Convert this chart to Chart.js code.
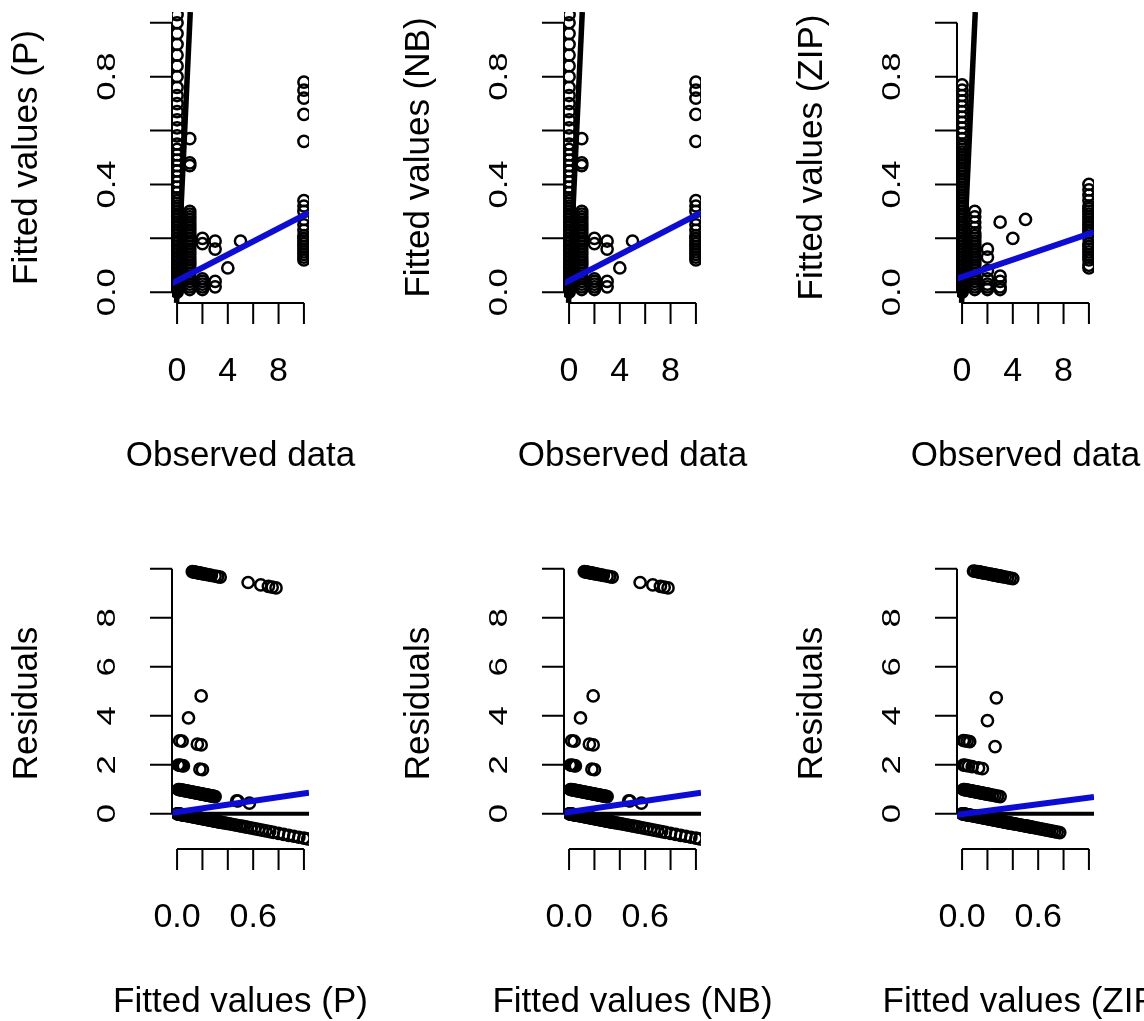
<!DOCTYPE html>
<html><head><meta charset="utf-8">
<script src="https://cdn.jsdelivr.net/npm/chart.js@4.4.1/dist/chart.umd.min.js"></script>
<style>
html,body{margin:0;padding:0;background:#fff;overflow:hidden;width:1144px;height:1021px;}
canvas{position:absolute;left:0;top:0;pointer-events:none;}
</style></head><body>
<canvas id="c0" width="1144" height="1021"></canvas>
<canvas id="c1" width="1144" height="1021"></canvas>
<canvas id="c2" width="1144" height="1021"></canvas>
<canvas id="c3" width="1144" height="1021"></canvas>
<canvas id="c4" width="1144" height="1021"></canvas>
<canvas id="c5" width="1144" height="1021"></canvas>
<script>
// ---------------- DATA ----------------
// Poisson model: observed counts, fitted values, residuals
const obsP = [
  0,0,0,0,0,0,0,0,0,0, 0,0,0,0,0,0,0,0,0,0, 0,0,0,0,0,0,0,0,0,0,
  0,0,0,0,0,0,0,0,0,0, 0,0,0,0,0,0,0,0,0,0, 0,0,0,0,0,0,0,0,0,0, 0,0,0,0,0,
  1,1,1,1,1,1,1,1,1,1, 1,1,1,1,1,1,1,1,1,1, 1,1,1,1,1,1,1,1,1,1, 1,1,1,
  2,2,2,2,2,2,2, 3,3,3,3, 4, 5,
  10,10,10,10,10,10,10,10,10,10, 10,10,10,10,10,10,10,10,10,10, 10];
const fitP = [
  0.00,0.005,0.01,0.015,0.02,0.025,0.03,0.035,0.04,0.045,
  0.05,0.06,0.07,0.08,0.09,0.10,0.11,0.12,0.13,0.14,
  0.15,0.16,0.17,0.18,0.19,0.20,0.21,0.22,0.23,0.24,
  0.25,0.26,0.27,0.28,0.29,0.30,0.31,0.32,0.33,0.34,
  0.35,0.37,0.39,0.41,0.43,0.45,0.47,0.49,0.51,0.53,
  0.55,0.58,0.61,0.64,0.67,0.70,0.73,0.76,0.80,0.84,
  0.88,0.92,0.96,1.00,1.03,
  0.57,0.48,0.47,0.30,0.29,0.28,0.27,0.26,0.25,0.24,
  0.23,0.22,0.21,0.20,0.19,0.18,0.17,0.16,0.15,0.14,
  0.13,0.12,0.11,0.10,0.09,0.08,0.07,0.06,0.05,0.04,
  0.03,0.02,0.01,
  0.20,0.18,0.05,0.04,0.03,0.02,0.01, 0.19,0.16,0.04,0.02, 0.09, 0.19,
  0.78,0.75,0.72,0.66,0.56,0.34,0.32,0.30,0.27,0.25,
  0.23,0.21,0.20,0.19,0.18,0.17,0.16,0.15,0.14,0.13,
  0.12];
const resP = [
  0,-0.005,-0.01,-0.015,-0.02,-0.025,-0.03,-0.035,-0.04,-0.045,
  -0.05,-0.06,-0.07,-0.08,-0.09,-0.10,-0.11,-0.12,-0.13,-0.14,
  -0.15,-0.16,-0.17,-0.18,-0.19,-0.20,-0.21,-0.22,-0.23,-0.24,
  -0.25,-0.26,-0.27,-0.28,-0.29,-0.30,-0.31,-0.32,-0.33,-0.34,
  -0.35,-0.37,-0.39,-0.41,-0.43,-0.45,-0.47,-0.49,-0.51,-0.53,
  -0.55,-0.58,-0.61,-0.64,-0.67,-0.70,-0.73,-0.76,-0.80,-0.84,
  -0.88,-0.92,-0.96,-1.00,-1.03,
  0.43,0.52,0.53,0.70,0.71,0.72,0.73,0.74,0.75,0.76,
  0.77,0.78,0.79,0.80,0.81,0.82,0.83,0.84,0.85,0.86,
  0.87,0.88,0.89,0.90,0.91,0.92,0.93,0.94,0.95,0.96,
  0.97,0.98,0.99,
  1.80,1.82,1.95,1.96,1.97,1.98,1.99, 2.81,2.84,2.96,2.98, 3.91, 4.81,
  9.22,9.25,9.28,9.34,9.44,9.66,9.68,9.70,9.73,9.75,
  9.77,9.79,9.80,9.81,9.82,9.83,9.84,9.85,9.86,9.87,
  9.88];

// Negative binomial model
const obsNB = [
  0,0,0,0,0,0,0,0,0,0, 0,0,0,0,0,0,0,0,0,0, 0,0,0,0,0,0,0,0,0,0,
  0,0,0,0,0,0,0,0,0,0, 0,0,0,0,0,0,0,0,0,0, 0,0,0,0,0,0,0,0,0,0, 0,0,0,0,0,
  1,1,1,1,1,1,1,1,1,1, 1,1,1,1,1,1,1,1,1,1, 1,1,1,1,1,1,1,1,1,1, 1,1,1,
  2,2,2,2,2,2,2, 3,3,3,3, 4, 5,
  10,10,10,10,10,10,10,10,10,10, 10,10,10,10,10,10,10,10,10,10, 10];
const fitNB = [
  0.00,0.005,0.01,0.015,0.02,0.025,0.03,0.035,0.04,0.045,
  0.05,0.06,0.07,0.08,0.09,0.10,0.11,0.12,0.13,0.14,
  0.15,0.16,0.17,0.18,0.19,0.20,0.21,0.22,0.23,0.24,
  0.25,0.26,0.27,0.28,0.29,0.30,0.31,0.32,0.33,0.34,
  0.35,0.37,0.39,0.41,0.43,0.45,0.47,0.49,0.51,0.53,
  0.55,0.58,0.61,0.64,0.67,0.70,0.73,0.76,0.80,0.84,
  0.88,0.92,0.96,1.00,1.03,
  0.57,0.48,0.47,0.30,0.29,0.28,0.27,0.26,0.25,0.24,
  0.23,0.22,0.21,0.20,0.19,0.18,0.17,0.16,0.15,0.14,
  0.13,0.12,0.11,0.10,0.09,0.08,0.07,0.06,0.05,0.04,
  0.03,0.02,0.01,
  0.20,0.18,0.05,0.04,0.03,0.02,0.01, 0.19,0.16,0.04,0.02, 0.09, 0.19,
  0.78,0.75,0.72,0.66,0.56,0.34,0.32,0.30,0.27,0.25,
  0.23,0.21,0.20,0.19,0.18,0.17,0.16,0.15,0.14,0.13,
  0.12];
const resNB = [
  0,-0.005,-0.01,-0.015,-0.02,-0.025,-0.03,-0.035,-0.04,-0.045,
  -0.05,-0.06,-0.07,-0.08,-0.09,-0.10,-0.11,-0.12,-0.13,-0.14,
  -0.15,-0.16,-0.17,-0.18,-0.19,-0.20,-0.21,-0.22,-0.23,-0.24,
  -0.25,-0.26,-0.27,-0.28,-0.29,-0.30,-0.31,-0.32,-0.33,-0.34,
  -0.35,-0.37,-0.39,-0.41,-0.43,-0.45,-0.47,-0.49,-0.51,-0.53,
  -0.55,-0.58,-0.61,-0.64,-0.67,-0.70,-0.73,-0.76,-0.80,-0.84,
  -0.88,-0.92,-0.96,-1.00,-1.03,
  0.43,0.52,0.53,0.70,0.71,0.72,0.73,0.74,0.75,0.76,
  0.77,0.78,0.79,0.80,0.81,0.82,0.83,0.84,0.85,0.86,
  0.87,0.88,0.89,0.90,0.91,0.92,0.93,0.94,0.95,0.96,
  0.97,0.98,0.99,
  1.80,1.82,1.95,1.96,1.97,1.98,1.99, 2.81,2.84,2.96,2.98, 3.91, 4.81,
  9.22,9.25,9.28,9.34,9.44,9.66,9.68,9.70,9.73,9.75,
  9.77,9.79,9.80,9.81,9.82,9.83,9.84,9.85,9.86,9.87,
  9.88];

// Zero-inflated Poisson model
const obsZIP = [
  0,0,0,0,0,0,0,0,0,0, 0,0,0,0,0,0,0,0,0,0, 0,0,0,0,0,0,0,0,0,0,
  0,0,0,0,0,0,0,0,0,0, 0,0,0,0,0,0,0,0,0,0, 0,0,0,0,0,0,0,0,0,0,
  0,0,0,0,0,0,0,0,0,0, 0,0,
  1,1,1,1,1,1,1,1,1,1, 1,1,1,1,1,1,1,1,1,1, 1,1,1,1,1,1,
  2,2,2,2,2,2,2, 3,3,3,3,3, 4, 5,
  10,10,10,10,10,10,10,10,10,10, 10,10,10,10,10,10,10,10,10,10, 10,10,10,10,10];
const fitZIP = [
  0.00,0.005,0.01,0.015,0.02,0.025,0.03,0.035,0.04,0.045,
  0.05,0.06,0.07,0.08,0.09,0.10,0.11,0.12,0.13,0.14,
  0.15,0.16,0.17,0.18,0.19,0.20,0.21,0.22,0.23,0.24,
  0.25,0.26,0.27,0.28,0.29,0.30,0.31,0.32,0.33,0.34,
  0.35,0.36,0.37,0.38,0.39,0.40,0.41,0.42,0.43,0.44,
  0.45,0.46,0.47,0.48,0.49,0.50,0.51,0.52,0.53,0.54,
  0.55,0.57,0.59,0.61,0.63,0.65,0.67,0.69,0.71,0.73,
  0.75,0.77,
  0.30,0.28,0.26,0.24,0.22,0.21,0.20,0.19,0.18,0.17,
  0.16,0.15,0.14,0.13,0.12,0.11,0.10,0.09,0.08,0.07,
  0.06,0.05,0.04,0.03,0.02,0.01,
  0.16,0.13,0.08,0.05,0.03,0.02,0.01, 0.26,0.06,0.04,0.02,0.01, 0.20, 0.27,
  0.40,0.38,0.36,0.34,0.32,0.31,0.30,0.29,0.28,0.27,
  0.26,0.25,0.24,0.23,0.22,0.20,0.18,0.17,0.16,0.15,
  0.14,0.13,0.12,0.10,0.09];
const resZIP = [
  0,-0.005,-0.01,-0.015,-0.02,-0.025,-0.03,-0.035,-0.04,-0.045,
  -0.05,-0.06,-0.07,-0.08,-0.09,-0.10,-0.11,-0.12,-0.13,-0.14,
  -0.15,-0.16,-0.17,-0.18,-0.19,-0.20,-0.21,-0.22,-0.23,-0.24,
  -0.25,-0.26,-0.27,-0.28,-0.29,-0.30,-0.31,-0.32,-0.33,-0.34,
  -0.35,-0.36,-0.37,-0.38,-0.39,-0.40,-0.41,-0.42,-0.43,-0.44,
  -0.45,-0.46,-0.47,-0.48,-0.49,-0.50,-0.51,-0.52,-0.53,-0.54,
  -0.55,-0.57,-0.59,-0.61,-0.63,-0.65,-0.67,-0.69,-0.71,-0.73,
  -0.75,-0.77,
  0.70,0.72,0.74,0.76,0.78,0.79,0.80,0.81,0.82,0.83,
  0.84,0.85,0.86,0.87,0.88,0.89,0.90,0.91,0.92,0.93,
  0.94,0.95,0.96,0.97,0.98,0.99,
  1.84,1.87,1.92,1.95,1.97,1.98,1.99, 2.74,2.94,2.96,2.98,2.99, 3.80, 4.73,
  9.60,9.62,9.64,9.66,9.68,9.69,9.70,9.71,9.72,9.73,
  9.74,9.75,9.76,9.77,9.78,9.80,9.82,9.83,9.84,9.85,
  9.86,9.87,9.88,9.90,9.91];

// Fitted regression lines (blue) and reference lines (black), as data-space endpoints
const blueTopX = [-0.4, 10.4];
const blueTopP = [0.033, 0.295];
const blueTopNB = [0.033, 0.295];
const blueTopZIP = [0.05, 0.223];
const identX = [-0.04, 1.04];
const identY = [-0.04, 1.04];
const blueBotX = [-0.04, 1.04];
const blueBotP = [0.04, 0.86];
const blueBotNB = [0.04, 0.86];
const blueBotZIP = [-0.04, 0.68];
const zeroX = [-0.04, 1.04];
const zeroY = [0, 0];

// Axis ticks and labels
const topXTicks = [0, 2, 4, 6, 8, 10];
const topXLabels = ['0', '', '4', '', '8', ''];
const topYTicks = [0, 0.2, 0.4, 0.6, 0.8, 1.0];
const topYLabels = ['0.0', '', '0.4', '', '0.8', ''];
const botXTicks = [0, 0.2, 0.4, 0.6, 0.8, 1.0];
const botXLabels = ['0.0', '', '', '0.6', '', ''];
const botYTicks = [0, 2, 4, 6, 8, 10];
const botYLabels = ['0', '2', '4', '6', '8', ''];

const modelTitles = ['Fitted values (P)', 'Fitted values (NB)', 'Fitted values (ZIP)'];
const topXTitle = 'Observed data';
const botYTitle = 'Residuals';

// ---------------- RENDERING ----------------
const FONT = '"Liberation Sans", Arial, Helvetica, sans-serif';
const BLUE = '#0c0cd4';
const W = 1144, H = 1021;
const TICK_FONT = 34, TITLE_FONT = 35;

const rAxes = {
  id: 'rAxes',
  afterDraw(chart, args, o) {
    const ctx = chart.ctx, a = chart.chartArea, xs = chart.scales.x, ys = chart.scales.y;
    ctx.save();
    ctx.strokeStyle = '#000'; ctx.fillStyle = '#000'; ctx.lineWidth = 2;
    const yb = a.bottom, xl = a.left;
    ctx.beginPath();
    ctx.moveTo(xs.getPixelForValue(o.xTicks[0]), yb);
    ctx.lineTo(xs.getPixelForValue(o.xTicks[o.xTicks.length - 1]), yb);
    o.xTicks.forEach(v => { const p = xs.getPixelForValue(v); ctx.moveTo(p, yb); ctx.lineTo(p, yb + 21); });
    ctx.moveTo(xl, ys.getPixelForValue(o.yTicks[0]));
    ctx.lineTo(xl, ys.getPixelForValue(o.yTicks[o.yTicks.length - 1]));
    o.yTicks.forEach(v => { const p = ys.getPixelForValue(v); ctx.moveTo(xl, p); ctx.lineTo(xl - 22, p); });
    ctx.stroke();
    ctx.textAlign = 'center'; ctx.textBaseline = 'alphabetic';
    ctx.font = TICK_FONT + 'px ' + FONT;
    o.xTicks.forEach((v, i) => { if (o.xLabels[i]) ctx.fillText(o.xLabels[i], xs.getPixelForValue(v), yb + 78); });
    o.yTicks.forEach((v, i) => {
      if (!o.yLabels[i]) return;
      ctx.save(); ctx.translate(xl - 57, ys.getPixelForValue(v)); ctx.rotate(-Math.PI / 2); ctx.scale(1.02, 0.75);
      ctx.fillText(o.yLabels[i], 0, 0); ctx.restore();
    });
    ctx.font = TITLE_FONT + 'px ' + FONT;
    ctx.fillText(o.xTitle, (a.left + a.right) / 2, yb + 163);
    ctx.save(); ctx.translate(xl - 135, (a.top + a.bottom) / 2); ctx.rotate(-Math.PI / 2);
    ctx.fillText(o.yTitle, 0, 0); ctx.restore();
    ctx.restore();
  }
};

function pts(xs, ys) { return xs.map((x, i) => ({ x: x, y: ys[i] })); }

function panel(id, area, ranges, pointData, blueData, refData, refWidth, axes) {
  new Chart(document.getElementById(id), {
    type: 'scatter',
    data: {
      datasets: [
        { data: blueData, showLine: true, borderColor: BLUE, borderWidth: 6, pointRadius: 0, order: 0, clip: 0 },
        { data: refData, showLine: true, borderColor: '#000', borderWidth: refWidth, pointRadius: 0, order: 1, clip: 0 },
        { data: pointData, showLine: false, pointRadius: 5.6, pointBorderWidth: 2.5, pointBorderColor: '#000',
          pointBackgroundColor: 'rgba(0,0,0,0)', borderColor: '#000', backgroundColor: 'rgba(0,0,0,0)', order: 2, clip: 0 }
      ]
    },
    options: {
      responsive: false, animation: false, events: [],
      layout: { padding: { left: area.left, right: W - area.right, top: area.top, bottom: H - area.bottom } },
      plugins: { legend: { display: false }, tooltip: { enabled: false }, rAxes: axes },
      scales: {
        x: { type: 'linear', display: false, min: ranges[0], max: ranges[1] },
        y: { type: 'linear', display: false, min: ranges[2], max: ranges[3] }
      }
    },
    plugins: [rAxes]
  });
}

const lefts = [172, 564, 957];
const models = [
  { obs: obsP, fit: fitP, res: resP, bt: blueTopP, bb: blueBotP },
  { obs: obsNB, fit: fitNB, res: resNB, bt: blueTopNB, bb: blueBotNB },
  { obs: obsZIP, fit: fitZIP, res: resZIP, bt: blueTopZIP, bb: blueBotZIP }
];

models.forEach((m, k) => {
  const L = lefts[k];
  panel('c' + k, { left: L, right: L + 137, top: 12, bottom: 303 }, [-0.4, 10.4, -0.04, 1.04],
    pts(m.obs, m.fit), pts(blueTopX, m.bt), pts(identX, identY), 5.5,
    { xTicks: topXTicks, xLabels: topXLabels, yTicks: topYTicks, yLabels: topYLabels, xTitle: topXTitle, yTitle: modelTitles[k] });
  panel('c' + (k + 3), { left: L, right: L + 137, top: 558, bottom: 849 }, [-0.04, 1.04, -1.44, 10.44],
    pts(m.fit, m.res), pts(blueBotX, m.bb), pts(zeroX, zeroY), 4,
    { xTicks: botXTicks, xLabels: botXLabels, yTicks: botYTicks, yLabels: botYLabels, xTitle: modelTitles[k], yTitle: botYTitle });
});
</script>
</body></html>
